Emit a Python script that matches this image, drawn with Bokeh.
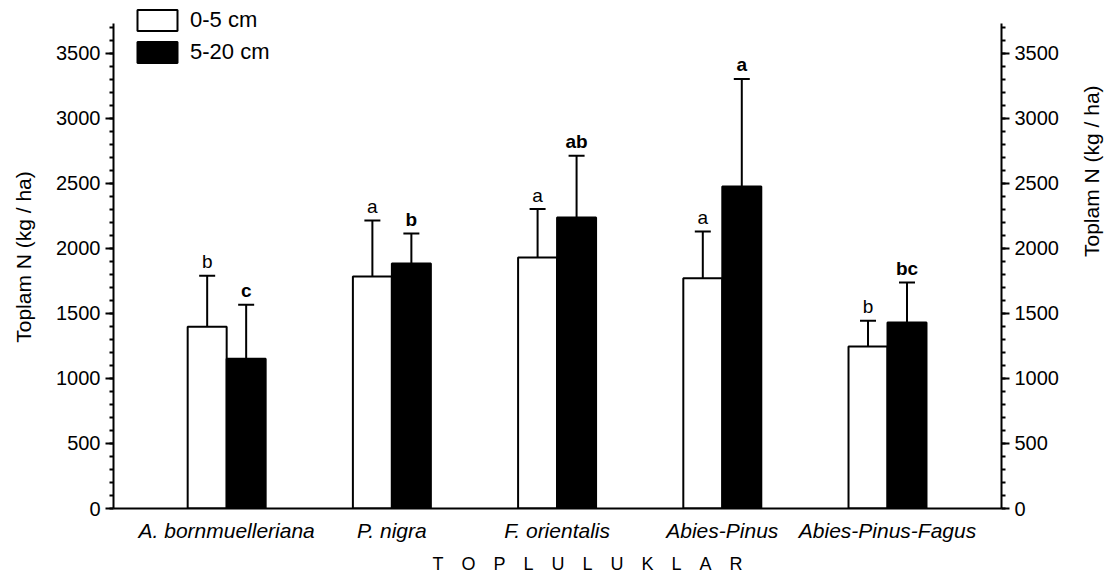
import math
from bokeh.plotting import figure
from bokeh.models import (ColumnDataSource, Whisker, TeeHead, Legend, LegendItem, LinearAxis,
                          SingleIntervalTicker, FixedTicker, Range1d, Title)
from bokeh.core.properties import value
from bokeh.embed import file_html
from bokeh.resources import INLINE

categories = ["A. bornmuelleriana", "P. nigra", "F. orientalis", "Abies-Pinus", "Abies-Pinus-Fagus"]
series_names = ["0-5 cm", "5-20 cm"]
mean_0_5 = [1397, 1784, 1930, 1771, 1246]
err_top_0_5 = [1789, 2214, 2302, 2130, 1443]
mean_5_20 = [1151, 1884, 2237, 2476, 1430]
err_top_5_20 = [1566, 2114, 2712, 3302, 1738]
letters_0_5 = ["b", "a", "a", "a", "b"]
letters_5_20 = ["c", "b", "ab", "a", "bc"]
y_title = "Toplam N (kg / ha)"
x_title = "TOPLULUKLAR"
axis_max = 3730

FONT = "Liberation Sans"
bw = 0.236
idx = list(range(len(categories)))

p = figure(width=1117, height=580, x_range=Range1d(-0.685, 4.69), y_range=Range1d(0, 3867),
           output_backend="svg", toolbar_location=None,
           min_border_left=113, min_border_right=115, min_border_top=5, min_border_bottom=72)
p.outline_line_color = None
p.xgrid.visible = False
p.ygrid.visible = False
p.background_fill_color = "white"
p.border_fill_color = "white"

src0 = ColumnDataSource(dict(x=[i - bw / 2 for i in idx], top=mean_0_5, upper=err_top_0_5, lab=letters_0_5))
src1 = ColumnDataSource(dict(x=[i + bw / 2 for i in idx], top=mean_5_20, upper=err_top_5_20, lab=letters_5_20))

r0 = p.vbar(x="x", top="top", width=bw, source=src0, fill_color="white", line_color="black", line_width=2)
r1 = p.vbar(x="x", top="top", width=bw, source=src1, fill_color="black", line_color="black", line_width=2)

for src in (src0, src1):
    w = Whisker(source=src, base="x", lower="top", upper="upper", line_width=2, line_color="black",
                upper_head=TeeHead(size=16, line_width=2, line_color="black"), lower_head=None,
                level="glyph")
    p.add_layout(w)

p.text(x="x", y="upper", text="lab", source=src0, text_align="center", text_baseline="alphabetic",
       y_offset=-14, text_font=value(FONT), text_font_size="19px", text_color="black")
p.text(x="x", y="upper", text="lab", source=src1, text_align="center", text_baseline="alphabetic",
       y_offset=-14, text_font=value(FONT), text_font_size="19px", text_font_style="bold",
       text_color="black")

# y axes
right_axis = LinearAxis()
p.add_layout(right_axis, "right")
for ax in (p.yaxis[0], right_axis):
    ax.ticker = SingleIntervalTicker(interval=500, num_minor_ticks=5)
    ax.bounds = (0, axis_max)
    ax.axis_line_width = 2
    ax.major_tick_line_width = 2
    ax.minor_tick_line_width = 2
    ax.major_tick_out = 8
    ax.major_tick_in = 0
    ax.minor_tick_out = 4
    ax.minor_tick_in = 0
    ax.major_label_standoff = 5
    ax.major_label_text_font = FONT
    ax.major_label_text_font_size = "20px"
    ax.major_label_text_color = "black"
    ax.axis_label = y_title
    ax.axis_label_text_font = FONT
    ax.axis_label_text_font_size = "21px"
    ax.axis_label_text_font_style = "normal"
    ax.axis_label_text_color = "black"
p.yaxis[0].axis_label_standoff = 18
right_axis.axis_label_standoff = 30
right_axis.axis_label_orientation = math.pi / 2

xa = p.xaxis[0]
xa.ticker = FixedTicker(ticks=idx)
xa.major_label_overrides = {i: c for i, c in zip(idx, categories)}
xa.axis_line_width = 2
xa.major_tick_out = 0
xa.major_tick_in = 0
xa.minor_tick_out = 0
xa.minor_tick_in = 0
xa.major_label_standoff = 10
xa.major_label_text_font = FONT
xa.major_label_text_font_size = "21px"
xa.major_label_text_font_style = "italic"
xa.major_label_text_color = "black"

xt = Title(text="\u2003".join(x_title), align="left", offset=319, standoff=14,
           text_font=FONT, text_font_size="18px", text_font_style="normal", text_color="black")
p.add_layout(xt, "below")

legend = Legend(items=[LegendItem(label=series_names[0], renderers=[r0]),
                       LegendItem(label=series_names[1], renderers=[r1])],
                location=(19, 443), glyph_width=50, glyph_height=26, spacing=6, padding=0, margin=0,
                label_standoff=8, label_text_font=FONT, label_text_font_size="22px",
                label_text_color="black", border_line_color=None, background_fill_alpha=0)
p.add_layout(legend, "center")

open("out.html", "w").write(file_html(p, INLINE))
